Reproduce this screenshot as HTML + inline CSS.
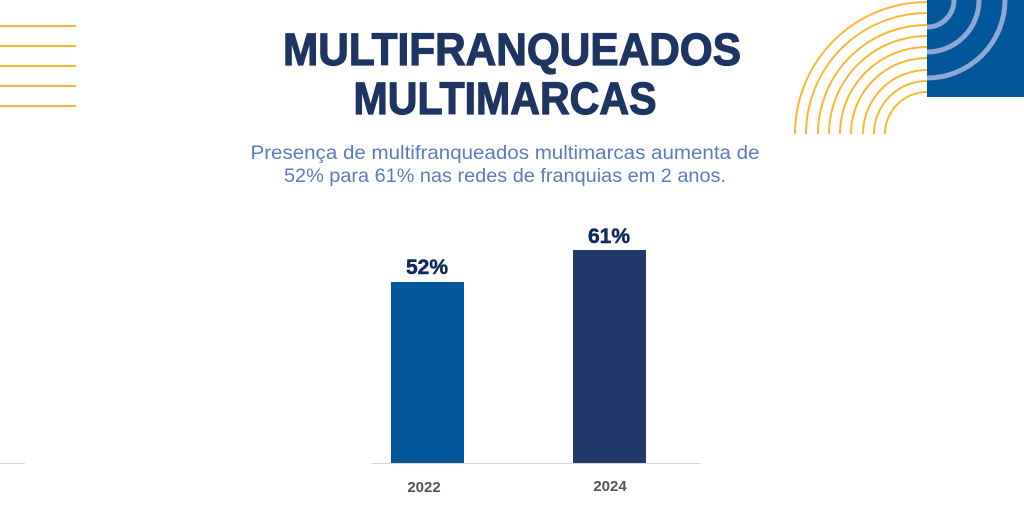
<!DOCTYPE html>
<html><head><meta charset="utf-8"><style>
html,body{margin:0;padding:0;background:#fff;width:1024px;height:508px;overflow:hidden}
</style></head><body>
<svg width="1024" height="508" viewBox="0 0 1024 508" xmlns="http://www.w3.org/2000/svg" font-family="Liberation Sans, sans-serif">
<g stroke="#f9b934" stroke-width="2">
<line x1="0" y1="26" x2="76" y2="26"/><line x1="0" y1="46" x2="76" y2="46"/><line x1="0" y1="66" x2="76" y2="66"/><line x1="0" y1="86" x2="76" y2="86"/><line x1="0" y1="106" x2="76" y2="106"/>
</g>
<g fill="none" stroke="#f9b934" stroke-width="2">
<path d="M795 134 A132 132 0 0 1 927 2"/>
<path d="M806 134 A121 121 0 0 1 927 13"/>
<path d="M818 134 A109 109 0 0 1 927 25"/>
<path d="M829 134 A98 98 0 0 1 927 36"/>
<path d="M840 134 A87 87 0 0 1 927 47"/>
<path d="M851 134 A76 76 0 0 1 927 58"/>
<path d="M863 134 A64 64 0 0 1 927 70"/>
<path d="M874 134 A53 53 0 0 1 927 81"/>
<path d="M885 134 A42 42 0 0 1 927 92"/>
</g>
<rect x="927" y="0" width="97" height="97" fill="#02579a"/>
<g fill="none" stroke="#8fa7d4" stroke-width="5">
<path d="M927 27 A27 27 0 0 0 954 0"/>
<path d="M927 52 A52 52 0 0 0 979 0"/>
<path d="M927 78 A78 78 0 0 0 1005 0"/>
</g>
<g fill="#1e3461" stroke="#1e3461" stroke-width="1.2" font-weight="bold" font-size="45" text-anchor="middle">
<text x="512" y="65" textLength="458" lengthAdjust="spacingAndGlyphs">MULTIFRANQUEADOS</text>
<text x="505" y="114" textLength="303" lengthAdjust="spacingAndGlyphs">MULTIMARCAS</text>
</g>
<g fill="#5b7cc0" font-size="19" text-anchor="middle">
<text x="505" y="159" textLength="509" lengthAdjust="spacingAndGlyphs">Presença de multifranqueados multimarcas aumenta de</text>
<text x="505" y="182" textLength="442" lengthAdjust="spacingAndGlyphs">52% para 61% nas redes de franquias em 2 anos.</text>
</g>
<rect x="391" y="282" width="73" height="181" fill="#02579a"/>
<rect x="573" y="250" width="73" height="213" fill="#1f3a68"/>
<line x1="371" y1="463.5" x2="701" y2="463.5" stroke="#d8d8d8" stroke-width="1"/>
<line x1="0" y1="463.5" x2="25" y2="463.5" stroke="#d8d8d8" stroke-width="1"/>
<g fill="#0f2a5c" stroke="#0f2a5c" stroke-width="0.5" font-weight="bold" font-size="21" text-anchor="middle">
<text x="427" y="274">52%</text>
<text x="609" y="243">61%</text>
</g>
<g fill="#555" font-weight="bold" font-size="15" text-anchor="middle">
<text x="424" y="492">2022</text>
<text x="610" y="491">2024</text>
</g>
</svg>
</body></html>
